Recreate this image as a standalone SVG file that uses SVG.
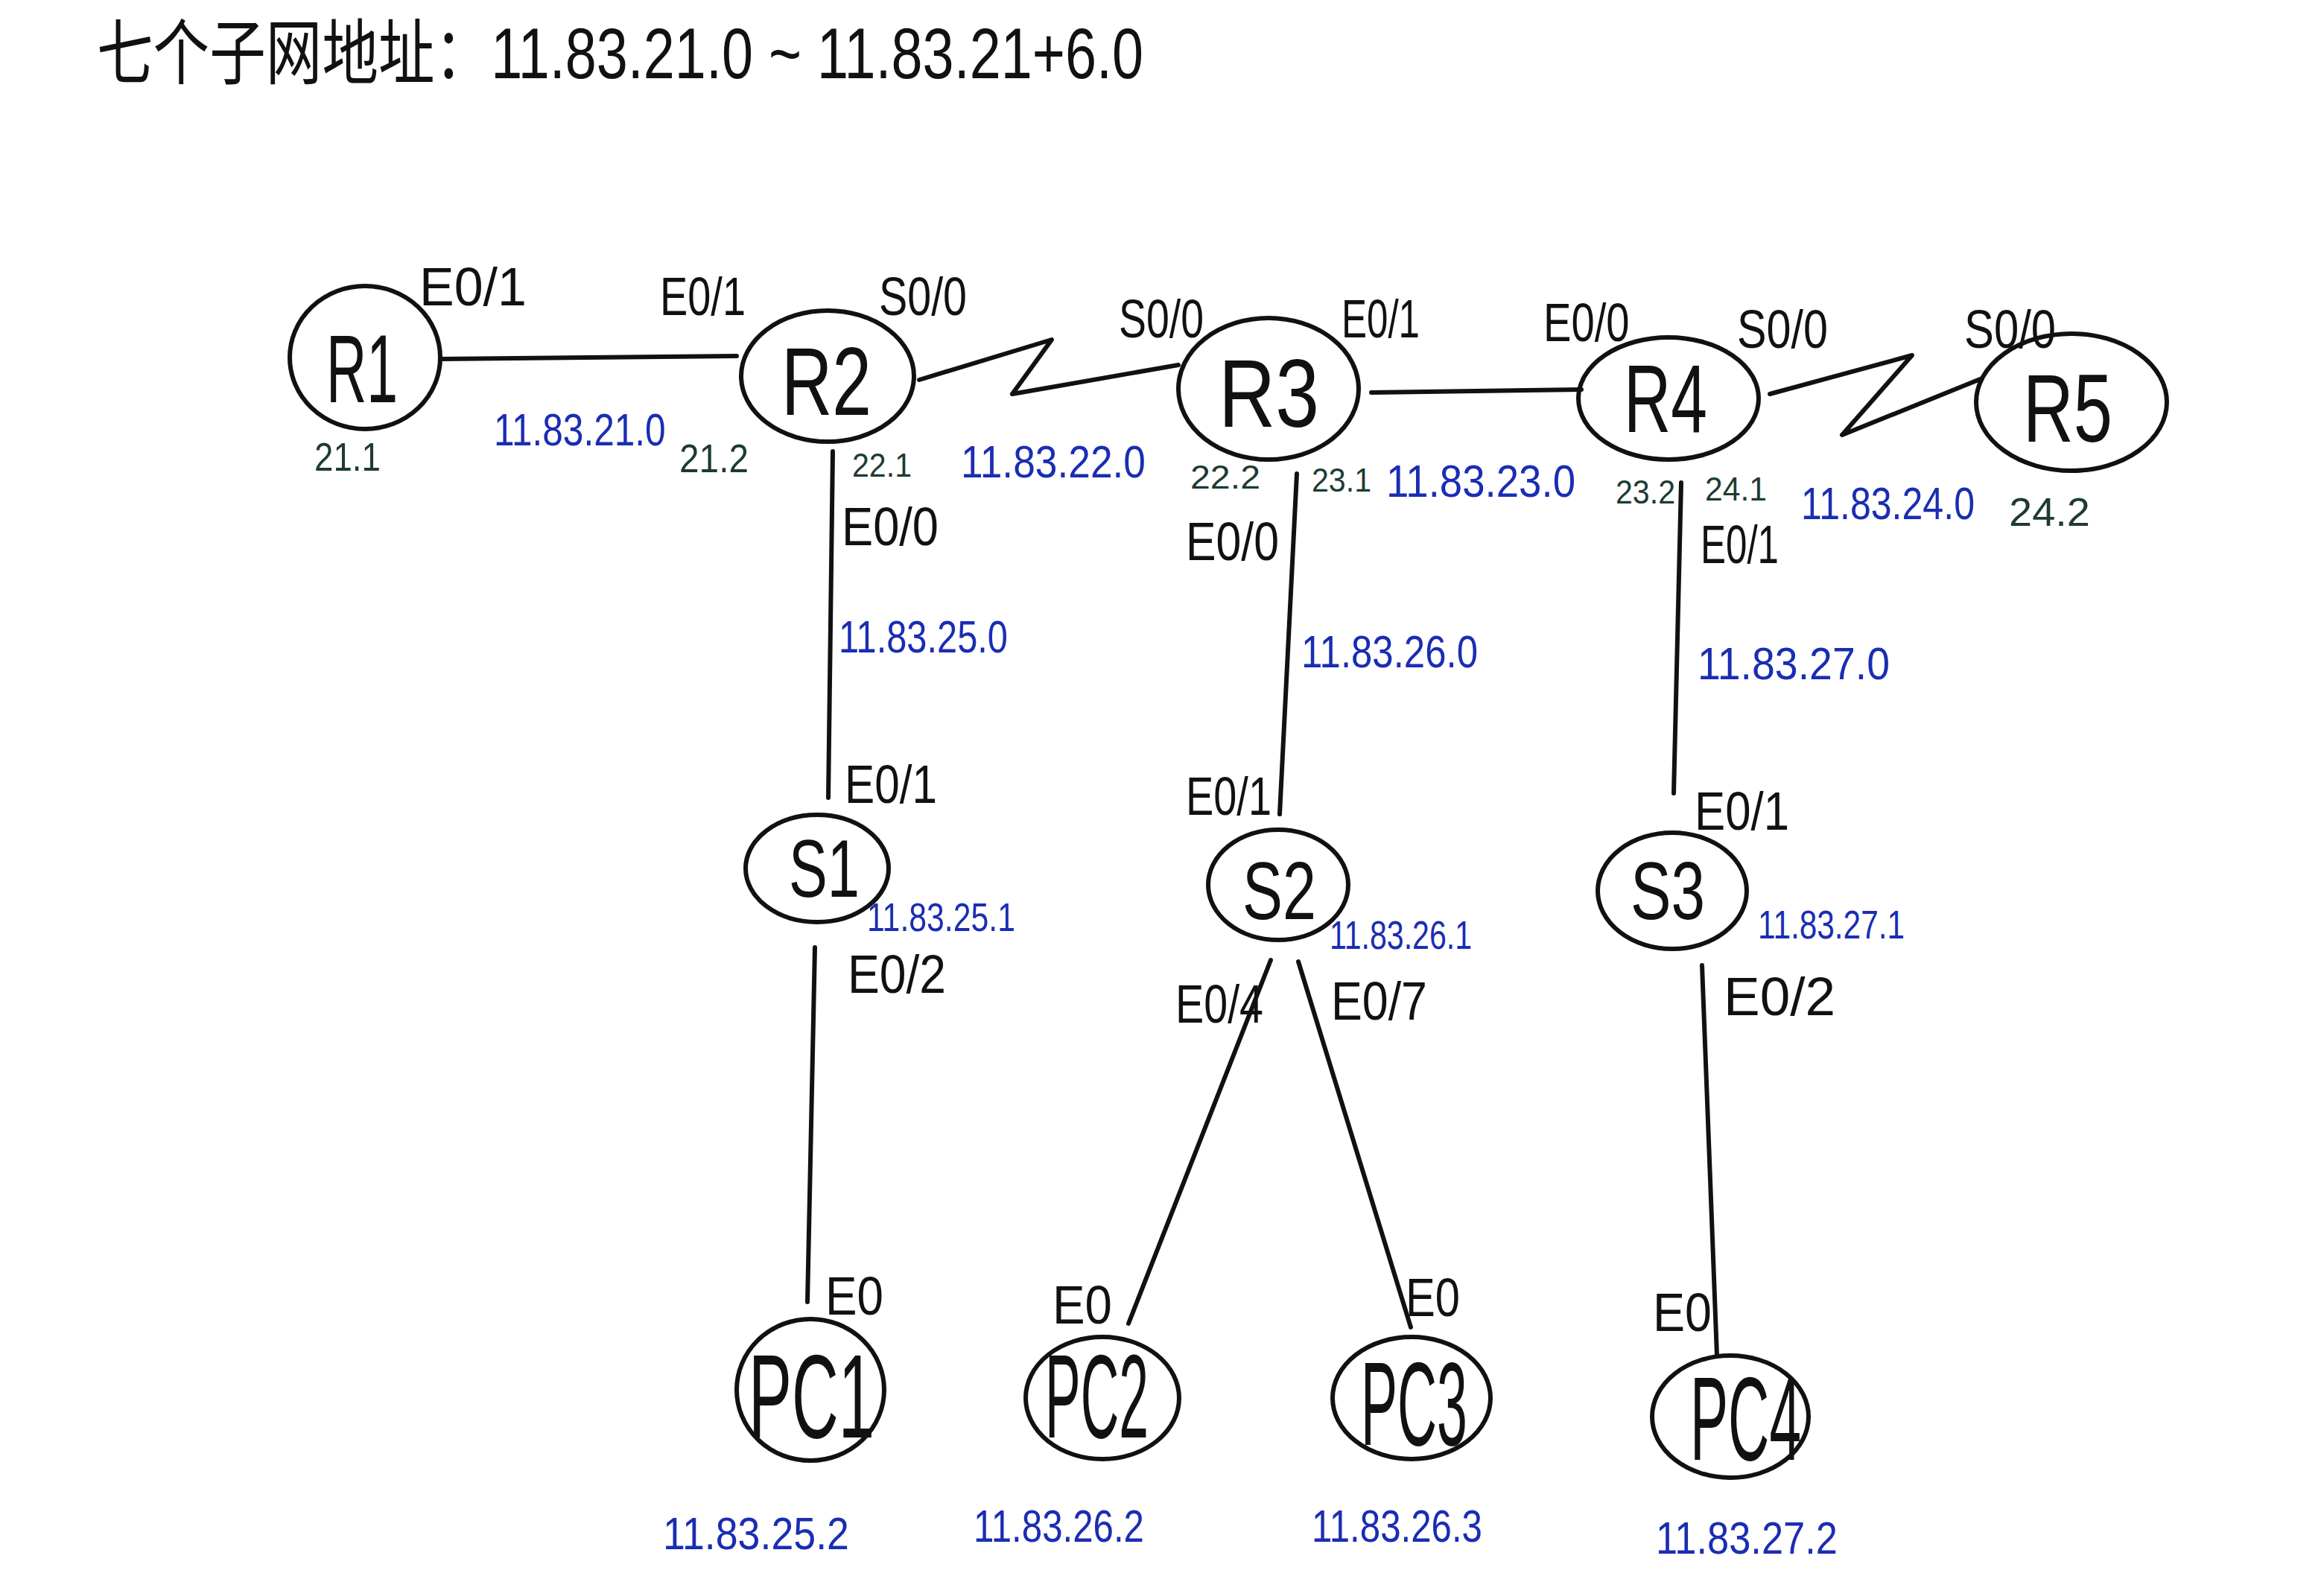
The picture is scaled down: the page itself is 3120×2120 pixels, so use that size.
<svg xmlns="http://www.w3.org/2000/svg" width="3120" height="2120" viewBox="0 0 3120 2120">
<style>
  .bg{fill:#ffffff}
  .node ellipse{fill:none;stroke:#111;stroke-width:6}
  .name{font-family:"Liberation Sans","DejaVu Sans",sans-serif;fill:#111}
  .rn{font-size:130px}
  .sn{font-size:110px}
  .pn{font-size:160px}
  .links path{fill:none;stroke:#111;stroke-width:6;stroke-linecap:round;stroke-linejoin:round}
  .port{font-family:"Liberation Sans","DejaVu Sans",sans-serif;font-size:72px;fill:#111}
  .ip{font-family:"Liberation Sans","DejaVu Sans",sans-serif;font-size:62px;fill:#1a2db3}
  .ips{font-size:54px}
  .host{font-family:"Liberation Sans","DejaVu Sans",sans-serif;font-size:54px;fill:#1d3b33}
  .hs{font-size:44px}
  .title{font-family:"Liberation Sans","Noto Sans CJK SC",sans-serif;font-size:96px;fill:#111}
</style>
<rect class="bg" x="0" y="0" width="3120" height="2120"/>

<g id="title">
  <text class="title" x="130" y="105" textLength="1405" lengthAdjust="spacingAndGlyphs">七个子网地址：11.83.21.0 ~ 11.83.21+6.0</text>
</g>

<g id="connectors" class="links">
  <path id="R1-R2" d="M591,482 L989,478"/>
  <path id="R2-R3" d="M1234,510 L1412,456 L1359,529 L1582,490"/>
  <path id="R3-R4" d="M1841,527 L2123,523"/>
  <path id="R4-R5" d="M2376,529 L2567,477 L2473,584 L2661,508"/>
  <path id="R2-S1" d="M1118,606 L1112,1071"/>
  <path id="S1-PC1" d="M1094,1272 L1084,1748"/>
  <path id="R3-S2" d="M1741,636 L1718,1093"/>
  <path id="S2-PC2" d="M1706,1289 L1515,1777"/>
  <path id="S2-PC3" d="M1743,1291 L1894,1782"/>
  <path id="R4-S3" d="M2257,648 L2247,1065"/>
  <path id="S3-PC4" d="M2285,1296 L2305,1820"/>
</g>

<g id="R1" class="node"><ellipse cx="490" cy="480" rx="101" ry="96"/><text class="name rn" x="438" y="540" textLength="96" lengthAdjust="spacingAndGlyphs">R1</text></g>
<g id="R2" class="node"><ellipse cx="1111" cy="505" rx="116" ry="88"/><text class="name rn" x="1049" y="557" textLength="121" lengthAdjust="spacingAndGlyphs">R2</text></g>
<g id="R3" class="node"><ellipse cx="1703" cy="522" rx="121" ry="95"/><text class="name rn" x="1636" y="573" textLength="135" lengthAdjust="spacingAndGlyphs">R3</text></g>
<g id="R4" class="node"><ellipse cx="2240" cy="535" rx="121" ry="82"/><text class="name rn" x="2180" y="580" textLength="112" lengthAdjust="spacingAndGlyphs">R4</text></g>
<g id="R5" class="node"><ellipse cx="2781" cy="540" rx="128" ry="92"/><text class="name rn" x="2716" y="593" textLength="120" lengthAdjust="spacingAndGlyphs">R5</text></g>
<g id="S1" class="node"><ellipse cx="1097" cy="1166" rx="96" ry="72"/><text class="name sn" x="1059" y="1204" textLength="95" lengthAdjust="spacingAndGlyphs">S1</text></g>
<g id="S2" class="node"><ellipse cx="1716" cy="1188" rx="94" ry="74"/><text class="name sn" x="1668" y="1234" textLength="99" lengthAdjust="spacingAndGlyphs">S2</text></g>
<g id="S3" class="node"><ellipse cx="2245" cy="1196" rx="100" ry="78"/><text class="name sn" x="2189" y="1234" textLength="100" lengthAdjust="spacingAndGlyphs">S3</text></g>
<g id="PC1" class="node"><ellipse cx="1088" cy="1866" rx="99" ry="95"/><text class="name pn" x="1005" y="1930" textLength="169" lengthAdjust="spacingAndGlyphs">PC1</text></g>
<g id="PC2" class="node"><ellipse cx="1480" cy="1877" rx="103" ry="82"/><text class="name pn" x="1403" y="1930" textLength="139" lengthAdjust="spacingAndGlyphs">PC2</text></g>
<g id="PC3" class="node"><ellipse cx="1895" cy="1877" rx="106" ry="82"/><text class="name pn" x="1827" y="1940" textLength="143" lengthAdjust="spacingAndGlyphs">PC3</text></g>
<g id="PC4" class="node"><ellipse cx="2323" cy="1902" rx="105" ry="82"/><text class="name pn" x="2269" y="1960" textLength="149" lengthAdjust="spacingAndGlyphs">PC4</text></g>

<g id="port-labels">
  <text class="port" x="563" y="410" textLength="144" lengthAdjust="spacingAndGlyphs">E0/1</text>
  <text class="port" x="886" y="423" textLength="115" lengthAdjust="spacingAndGlyphs">E0/1</text>
  <text class="port" x="1180" y="423" textLength="118" lengthAdjust="spacingAndGlyphs">S0/0</text>
  <text class="port" x="1502" y="453" textLength="114" lengthAdjust="spacingAndGlyphs">S0/0</text>
  <text class="port" x="1801" y="453" textLength="105" lengthAdjust="spacingAndGlyphs">E0/1</text>
  <text class="port" transform="translate(2072,458) scale(0.78,1)" x="0" y="0">E0/0</text>
  <text class="port" x="2332" y="467" textLength="122" lengthAdjust="spacingAndGlyphs">S0/0</text>
  <text class="port" x="2637" y="467" textLength="123" lengthAdjust="spacingAndGlyphs">S0/0</text>
  <text class="port" x="1130" y="732" textLength="130" lengthAdjust="spacingAndGlyphs">E0/0</text>
  <text class="port" x="1134" y="1078" textLength="124" lengthAdjust="spacingAndGlyphs">E0/1</text>
  <text class="port" x="1592" y="752" textLength="125" lengthAdjust="spacingAndGlyphs">E0/0</text>
  <text class="port" x="1592" y="1094" textLength="115" lengthAdjust="spacingAndGlyphs">E0/1</text>
  <text class="port" x="2283" y="756" textLength="105" lengthAdjust="spacingAndGlyphs">E0/1</text>
  <text class="port" x="2275" y="1114" textLength="127" lengthAdjust="spacingAndGlyphs">E0/1</text>
  <text class="port" x="1138" y="1333" textLength="132" lengthAdjust="spacingAndGlyphs">E0/2</text>
  <text class="port" x="1578" y="1373" textLength="118" lengthAdjust="spacingAndGlyphs">E0/4</text>
  <text class="port" x="1787" y="1369" textLength="129" lengthAdjust="spacingAndGlyphs">E0/7</text>
  <text class="port" x="2314" y="1363" textLength="150" lengthAdjust="spacingAndGlyphs">E0/2</text>
  <text class="port" x="1108" y="1765" textLength="78" lengthAdjust="spacingAndGlyphs">E0</text>
  <text class="port" x="1413" y="1777" textLength="80" lengthAdjust="spacingAndGlyphs">E0</text>
  <text class="port" x="1887" y="1767" textLength="73" lengthAdjust="spacingAndGlyphs">E0</text>
  <text class="port" x="2219" y="1787" textLength="79" lengthAdjust="spacingAndGlyphs">E0</text>
</g>

<g id="host-labels">
  <text class="host" x="422" y="632" textLength="89" lengthAdjust="spacingAndGlyphs">21.1</text>
  <text class="host" x="912" y="634" textLength="93" lengthAdjust="spacingAndGlyphs">21.2</text>
  <text class="host hs" x="1144" y="640" textLength="80" lengthAdjust="spacingAndGlyphs">22.1</text>
  <text class="host hs" x="1598" y="656" textLength="94" lengthAdjust="spacingAndGlyphs">22.2</text>
  <text class="host hs" x="1761" y="660" textLength="80" lengthAdjust="spacingAndGlyphs">23.1</text>
  <text class="host hs" x="2169" y="676" textLength="80" lengthAdjust="spacingAndGlyphs">23.2</text>
  <text class="host hs" x="2289" y="672" textLength="83" lengthAdjust="spacingAndGlyphs">24.1</text>
  <text class="host" x="2697" y="706" textLength="109" lengthAdjust="spacingAndGlyphs">24.2</text>
</g>

<g id="ip-labels">
  <text class="ip" transform="translate(663,598) scale(0.8,1)" x="0" y="0">11.83.21.0</text>
  <text class="ip" x="1290" y="641" textLength="248" lengthAdjust="spacingAndGlyphs">11.83.22.0</text>
  <text class="ip" x="1861" y="667" textLength="254" lengthAdjust="spacingAndGlyphs">11.83.23.0</text>
  <text class="ip" x="2418" y="697" textLength="233" lengthAdjust="spacingAndGlyphs">11.83.24.0</text>
  <text class="ip" x="1126" y="876" textLength="227" lengthAdjust="spacingAndGlyphs">11.83.25.0</text>
  <text class="ip" x="1747" y="896" textLength="237" lengthAdjust="spacingAndGlyphs">11.83.26.0</text>
  <text class="ip" x="2279" y="912" textLength="258" lengthAdjust="spacingAndGlyphs">11.83.27.0</text>
  <text class="ip ips" x="1164" y="1250" textLength="199" lengthAdjust="spacingAndGlyphs">11.83.25.1</text>
  <text class="ip ips" x="1785" y="1274" textLength="191" lengthAdjust="spacingAndGlyphs">11.83.26.1</text>
  <text class="ip ips" x="2360" y="1260" textLength="197" lengthAdjust="spacingAndGlyphs">11.83.27.1</text>
  <text class="ip" x="890" y="2080" textLength="250" lengthAdjust="spacingAndGlyphs">11.83.25.2</text>
  <text class="ip" x="1307" y="2070" textLength="229" lengthAdjust="spacingAndGlyphs">11.83.26.2</text>
  <text class="ip" x="1761" y="2070" textLength="229" lengthAdjust="spacingAndGlyphs">11.83.26.3</text>
  <text class="ip" x="2223" y="2086" textLength="244" lengthAdjust="spacingAndGlyphs">11.83.27.2</text>
</g>
</svg>
